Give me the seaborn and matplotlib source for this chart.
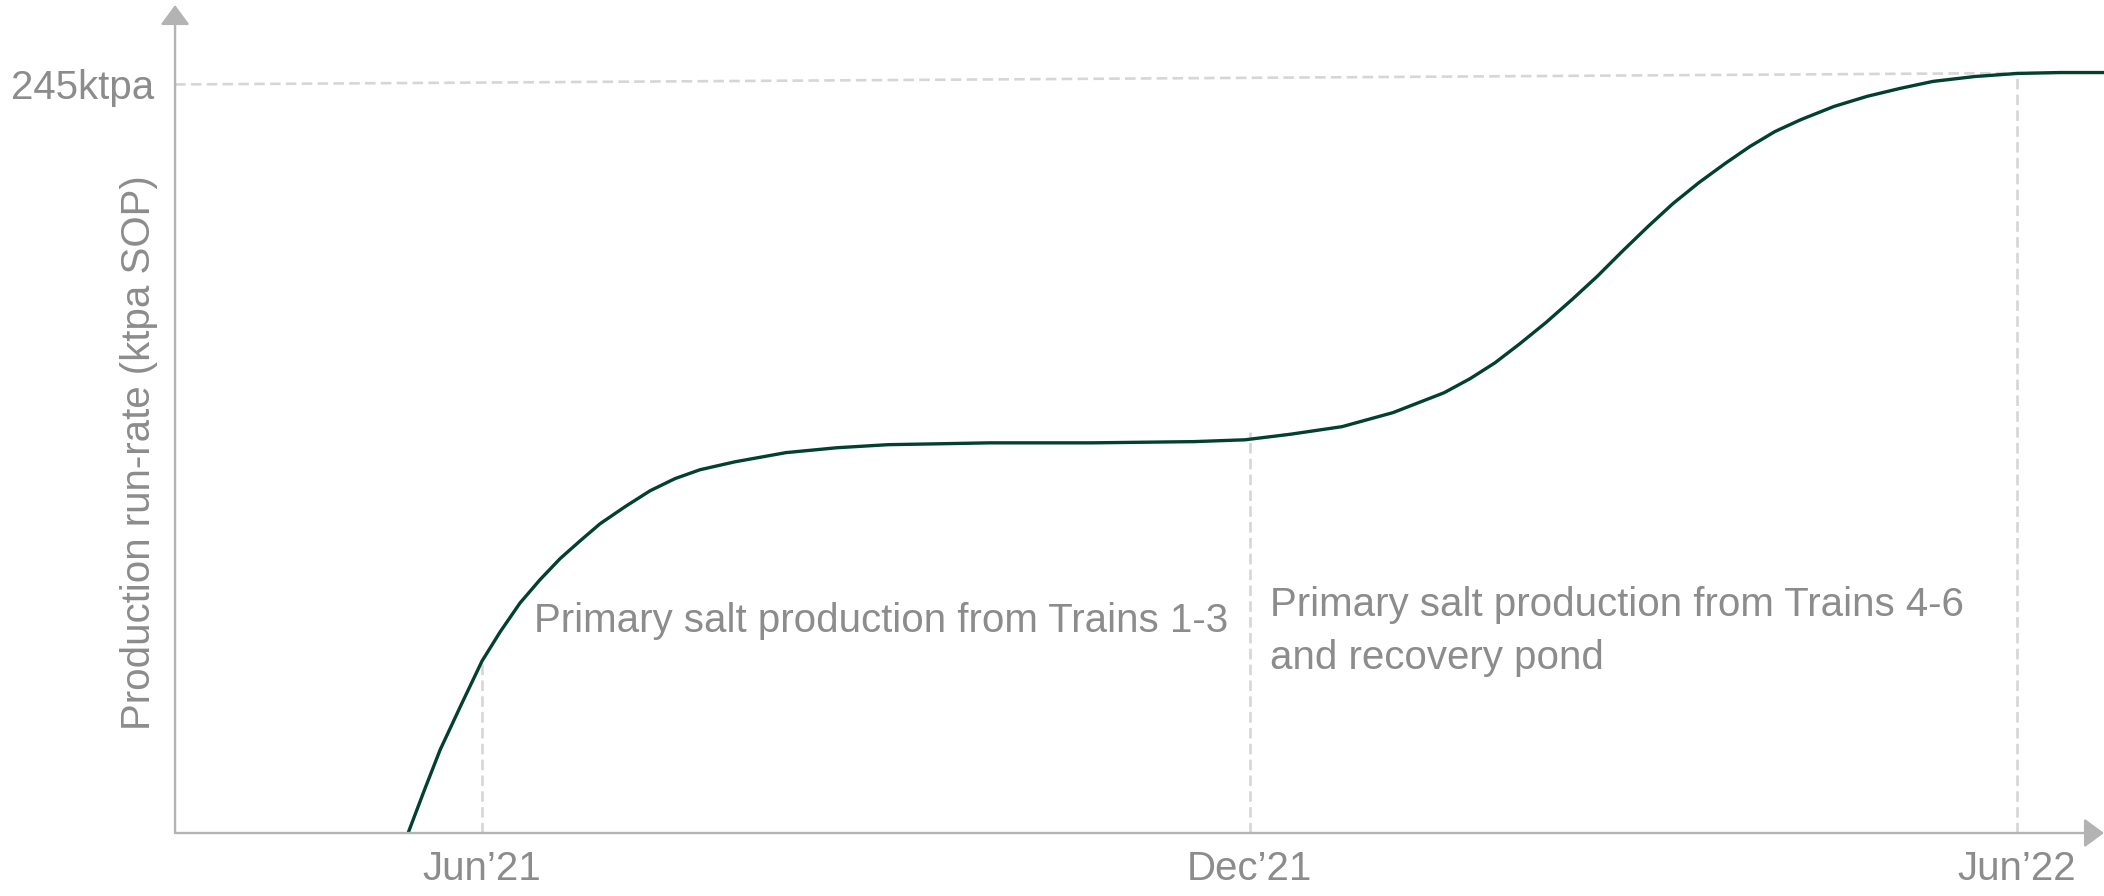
import numpy as np
import pandas as pd
import matplotlib.pyplot as plt
import seaborn as sns

# ramp-up curve (months from Jun'21, ktpa SOP)
months = [-0.578, -0.453, -0.328, -0.164, 0.0, 0.141, 0.297, 0.453, 0.610, 0.766,
          0.922, 1.118, 1.313, 1.509, 1.704, 1.978, 2.376, 2.775, 3.174, 3.580,
          3.971, 4.362, 4.769, 5.167, 5.566, 5.965, 6.317, 6.723, 7.122, 7.521,
          7.724, 7.919, 8.115, 8.318, 8.521, 8.716, 8.912, 9.115, 9.310, 9.514,
          9.717, 9.912, 10.108, 10.311, 10.569, 10.827, 11.085, 11.343, 11.671, 12.0,
          12.336, 12.68]
run_rate = [0.0, 13.8, 27.2, 41.9, 56.3, 65.8, 75.3, 82.9, 89.8, 95.6,
            101.2, 106.8, 112.0, 116.0, 118.9, 121.5, 124.5, 126.1, 127.1, 127.4,
            127.7, 127.7, 127.7, 127.9, 128.1, 128.7, 130.5, 133.0, 137.6, 144.1,
            148.7, 153.9, 160.2, 167.1, 174.6, 182.1, 190.3, 198.5, 206.0, 212.9,
            219.1, 224.7, 229.6, 233.5, 237.8, 241.1, 243.7, 246.0, 247.6, 248.6,
            248.9, 248.9]

tick_pos = [0, 6, 12]
tick_labels = ['Jun\u201921', 'Dec\u201921', 'Jun\u201922']
target = 245
target_label = '245ktpa'
notes = ['Primary salt production from Trains 1-3',
         'Primary salt production from Trains 4-6\nand recovery pond']
note_x = [0.41, 6.16]
note_y = [69.5, 66.0]

df = pd.DataFrame({'month': months, 'rate': run_rate})

sns.set_theme(style='white')
plt.rcParams['font.family'] = ['Liberation Sans', 'DejaVu Sans']

grey = '#8c8c8c'
axis_grey = '#b3b3b3'
dash_grey = '#d6d6d6'
green = '#02402f'
fs = 29

fig = plt.figure(figsize=(21.04, 8.96), dpi=100)
ax = fig.add_axes([0.0832, 0.0703, 0.9168, 0.9241])
x_lo, x_hi = -2.40, 12.68
ax.set_xlim(x_lo, x_hi)
ax.set_ylim(0, 271)

# dashed guide lines
ax.plot([x_lo, x_hi], [target, run_rate[-1]], color=dash_grey, lw=1.9,
        ls=(0, (4, 2)), zorder=1)
for m in tick_pos:
    top = np.interp(m, months, run_rate)
    if m == 6:
        top += 2.5
    ax.plot([m, m], [0, top], color=dash_grey, lw=1.9, ls=(0, (4, 2)), zorder=1)

sns.lineplot(data=df, x='month', y='rate', color=green, lw=2.4, ax=ax, zorder=3)

for s in ax.spines.values():
    s.set_visible(False)
# axis arrows
arrow = dict(arrowstyle='-|>,head_length=0.38,head_width=0.28', color=axis_grey,
             lw=1.7, mutation_scale=32, shrinkA=0, shrinkB=0)
ax.annotate('', xy=(1, 0), xytext=(0, 0), xycoords='axes fraction', arrowprops=arrow)
ax.annotate('', xy=(0, 1), xytext=(0, 0), xycoords='axes fraction', arrowprops=arrow)

ax.set_xticks(tick_pos)
ax.set_xticklabels(tick_labels, fontsize=fs, color=grey)
ax.set_yticks([target])
ax.set_yticklabels([target_label], fontsize=fs, color=grey)
ax.tick_params(axis='x', length=0, pad=12)
ax.tick_params(axis='y', length=0, pad=15)
ax.set_xlabel('')
ax.set_ylabel('Production run-rate (ktpa SOP)', fontsize=fs, color=grey)
ax.yaxis.set_label_coords(-0.009, 0.459)

for tx, ty, t in zip(note_x, note_y, notes):
    ax.text(tx, ty, t, fontsize=fs, color=grey, va='center', ha='left',
            linespacing=1.5)

fig.savefig('out.png', dpi=100)
